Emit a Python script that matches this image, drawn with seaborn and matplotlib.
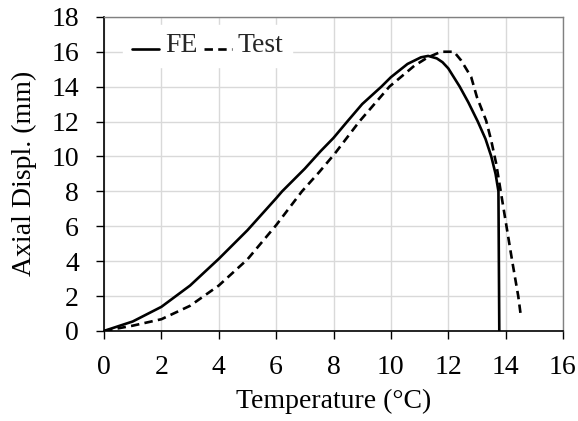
import matplotlib
matplotlib.use("Agg")
import matplotlib.pyplot as plt
import seaborn as sns
import pandas as pd

# FE series
fe_temp = [0, 1, 2, 3, 4, 5, 6, 6.21, 7, 7.55, 8, 8.48, 9, 9.67, 10, 10.58, 11.05, 11.3,
           11.6, 11.8, 12, 12.4, 12.7, 13.03, 13.3, 13.5, 13.65, 13.75, 13.78]
fe_disp = [0, 0.54, 1.38, 2.6, 4.13, 5.77, 7.6, 8.0, 9.3, 10.3, 11.06, 12.0, 13.0, 14.0, 14.54, 15.3, 15.68, 15.76,
           15.62, 15.4, 15.05, 14.0, 13.1, 12.0, 11.0, 10.0, 9.0, 8.0, 0]

# Test series
test_temp = [0, 1, 2, 3, 4, 5, 6, 6.9, 7.5, 8.04, 8.9, 9.95, 10.82, 11.28, 11.75, 12.2, 12.45,
             12.8, 13.0, 13.32, 13.5, 13.67, 13.82, 14.03, 14.23, 14.44, 14.52]
test_disp = [0, 0.3, 0.67, 1.44, 2.6, 4.1, 6.06, 8.0, 9.1, 10.15, 12.0, 14.0, 15.2, 15.67, 16.0, 16.0, 15.5,
             14.55, 13.4, 12.06, 10.9, 9.6, 8.1, 6.0, 4.0, 2.0, 1.0]

x_ticks = [0, 2, 4, 6, 8, 10, 12, 14, 16]
y_ticks = [0, 2, 4, 6, 8, 10, 12, 14, 16, 18]

sns.set_style("whitegrid")
plt.rcParams['font.family'] = ['Liberation Serif', 'DejaVu Serif']

fe_df = pd.DataFrame({"Temperature": fe_temp, "Disp": fe_disp})
test_df = pd.DataFrame({"Temperature": test_temp, "Disp": test_disp})

FS = 20
fig = plt.figure(figsize=(5.78, 4.21), dpi=100)
ax = fig.add_axes([0.18, 0.214, 0.794, 0.746])

sns.lineplot(data=fe_df, x="Temperature", y="Disp", sort=False, estimator=None,
             color="black", linewidth=1.9, label="FE", ax=ax)
sns.lineplot(data=test_df, x="Temperature", y="Disp", sort=False, estimator=None,
             color="black", linewidth=1.9, linestyle=(0, (3.2, 2.0)), label="Test", ax=ax)

ax.set_xlim(0, 16)
ax.set_ylim(0, 18)
ax.set_xticks(x_ticks)
ax.set_yticks(y_ticks)
ax.grid(True, color="#d9d9d9", linewidth=1.0)
ax.set_axisbelow(True)

for s in ["top", "right"]:
    ax.spines[s].set_color("#808080")
    ax.spines[s].set_linewidth(1.0)
for s in ["left", "bottom"]:
    ax.spines[s].set_color("black")
    ax.spines[s].set_linewidth(1.2)

ax.tick_params(axis="both", direction="out", length=6, width=1, color="black",
               labelsize=FS, labelcolor="black", bottom=True, left=True)
ax.tick_params(axis="x", pad=11)
ax.tick_params(axis="y", pad=12)
ax.set_xlabel("Temperature (°C)", fontsize=FS, color="black", labelpad=7)
ax.set_ylabel("Axial Displ. (mm)", fontsize=FS, color="black", labelpad=10)

leg = ax.legend(loc="upper left", ncol=2, frameon=True, fontsize=FS,
                handlelength=1.0, handletextpad=0.2, columnspacing=0.25,
                borderpad=0.3, bbox_to_anchor=(0.042, 0.975), borderaxespad=0.0)
leg.get_frame().set_edgecolor("white")
leg.get_frame().set_facecolor("white")
leg.get_frame().set_alpha(1.0)
leg.get_frame().set_boxstyle("square", pad=0.0)
for ln in leg.get_lines():
    yd = ln.get_ydata()
    ln.set_ydata([v - 4.5 for v in yd])

fig.savefig("out.png", dpi=100)
